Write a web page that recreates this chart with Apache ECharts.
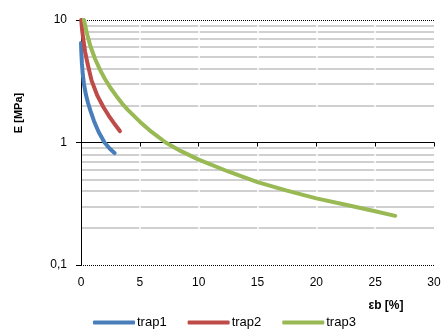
<!DOCTYPE html>
<html>
<head>
<meta charset="utf-8">
<script src="https://cdn.jsdelivr.net/npm/echarts@6/dist/echarts.min.js"></script>
<style>
  html, body { margin: 0; padding: 0; background: #fff; }
  #chart { width: 445px; height: 334px; }
</style>
</head>
<body>
<div id="chart"></div>
<script>
// Strain at break (%) vs modulus (MPa) for three traps
const trap1X = [0.0, 0.03, 0.08, 0.15, 0.25, 0.42, 0.6, 0.8, 1.1, 1.5, 2.0, 2.45, 2.85];
const trap1Y = [6.5, 5.4, 4.4, 3.6, 3.0, 2.45, 2.1, 1.82, 1.5, 1.22, 1.0, 0.89, 0.82];

const trap2X = [0.02, 0.1, 0.2, 0.35, 0.57, 0.9, 1.4, 1.9, 2.35, 2.8, 3.3];
const trap2Y = [10, 8.2, 6.9, 5.5, 4.35, 3.2, 2.4, 1.95, 1.66, 1.44, 1.24];

const trap3X = [0.25, 0.5, 0.8, 1.2, 1.6, 2, 2.5, 3, 3.5, 4, 5, 6, 7.2, 8.5, 10, 12.5, 15, 17.5, 20, 22.5, 25, 26.7];
const trap3Y = [10, 7.8, 6.1, 4.8, 3.95, 3.35, 2.8, 2.4, 2.08, 1.84, 1.48, 1.22, 1.0, 0.85, 0.725, 0.58, 0.475, 0.405, 0.35, 0.31, 0.275, 0.252];

const seriesNames = ['trap1', 'trap2', 'trap3'];
const seriesColors = ['#4A7EBB', '#BE4B48', '#98B954'];

// Axis ranges and gridline values
const xMin = 0, xMax = 30, xStep = 5;
const yMin = 0.1, yMax = 10;
const minorGridValues = [0.2, 0.3, 0.4, 0.5, 0.6, 0.7, 0.8, 0.9, 2, 3, 4, 5, 6, 7, 8, 9];
const xGridValues = [5, 10, 15, 20, 25];

const grid = { left: 81, right: 11, top: 20, bottom: 69 };
const gridHeight = 334 - grid.top - grid.bottom;

const zip = (xs, ys) => xs.map((x, i) => [x, ys[i]]);
const curves = [zip(trap1X, trap1Y), zip(trap2X, trap2Y), zip(trap3X, trap3Y)];

const chart = echarts.init(document.getElementById('chart'), null, { renderer: 'canvas' });

const font = 'Liberation Sans, Arial, sans-serif';

chart.setOption({
  animation: false,
  backgroundColor: '#ffffff',
  textStyle: { fontFamily: font },
  grid: grid,
  legend: {
    data: seriesNames,
    left: 88,
    top: 311,
    icon: 'roundRect',
    itemWidth: 42,
    itemHeight: 4,
    itemGap: 21,
    textStyle: { fontSize: 13, color: '#000', fontFamily: font, padding: [0, 0, 0, -3] }
  },
  xAxis: [
    {
      type: 'value',
      min: xMin, max: xMax, interval: xStep,
      position: 'bottom',
      axisLine: { show: false },
      axisTick: { show: false },
      splitLine: { show: false },
      axisLabel: { fontSize: 12, color: '#000', margin: 12, fontFamily: font }
    },
    {
      // axis line crossing the value axis at 1
      type: 'value',
      min: xMin, max: xMax, interval: xStep,
      position: 'bottom',
      offset: -gridHeight / 2,
      z: 2,
      axisLine: { show: true, lineStyle: { color: '#000', width: 1 } },
      axisTick: { show: true, length: 4, lineStyle: { color: '#000' } },
      axisLabel: { show: false },
      splitLine: { show: false }
    }
  ],
  yAxis: {
    type: 'log',
    logBase: 10,
    min: yMin, max: yMax,
    z: 2,
    axisLine: { show: true, lineStyle: { color: '#000', width: 1 } },
    axisTick: { show: true, length: 5, lineStyle: { color: '#000' } },
    axisLabel: {
      fontSize: 12, color: '#000', margin: 14, fontFamily: font,
      formatter: v => String(v).replace('.', ',')
    },
    splitLine: { show: true, lineStyle: { color: '#000', type: [1, 1], width: 1 } }
  },
  graphic: [
    {
      type: 'text',
      x: 19, y: 113,
      rotation: Math.PI / 2,
      style: {
        text: 'E [MPa]',
        font: 'bold 11px ' + font,
        fill: '#000',
        textAlign: 'center',
        textVerticalAlign: 'middle'
      }
    },
    {
      type: 'text',
      x: 386, y: 306,
      style: {
        text: 'εb [%]',
        font: 'bold 12px ' + font,
        fill: '#000',
        textAlign: 'center',
        textVerticalAlign: 'middle'
      }
    }
  ],
  series: [
    {
      // minor gridlines of the log axis, crossed by light vertical gaps
      type: 'line',
      data: [],
      silent: true,
      xAxisIndex: 0,
      markLine: {
        silent: true,
        symbol: 'none',
        z: 1,
        animation: false,
        label: { show: false },
        data: minorGridValues.map(v => ({ yAxis: v, lineStyle: { color: '#C0C0C0', width: 1.5, type: 'solid' } }))
          .concat(xGridValues.map(v => ({ xAxis: v, lineStyle: { color: '#ffffff', width: 1.5, type: 'solid' } })))
      }
    }
  ].concat(curves.map((data, i) => ({
    name: seriesNames[i],
    type: 'line',
    xAxisIndex: 0,
    data: data,
    z: 3,
    smooth: false,
    showSymbol: false,
    symbol: 'none',
    lineStyle: { color: seriesColors[i], width: 4, cap: 'round', join: 'round' },
    itemStyle: { color: seriesColors[i] }
  })))
});
</script>
</body>
</html>
